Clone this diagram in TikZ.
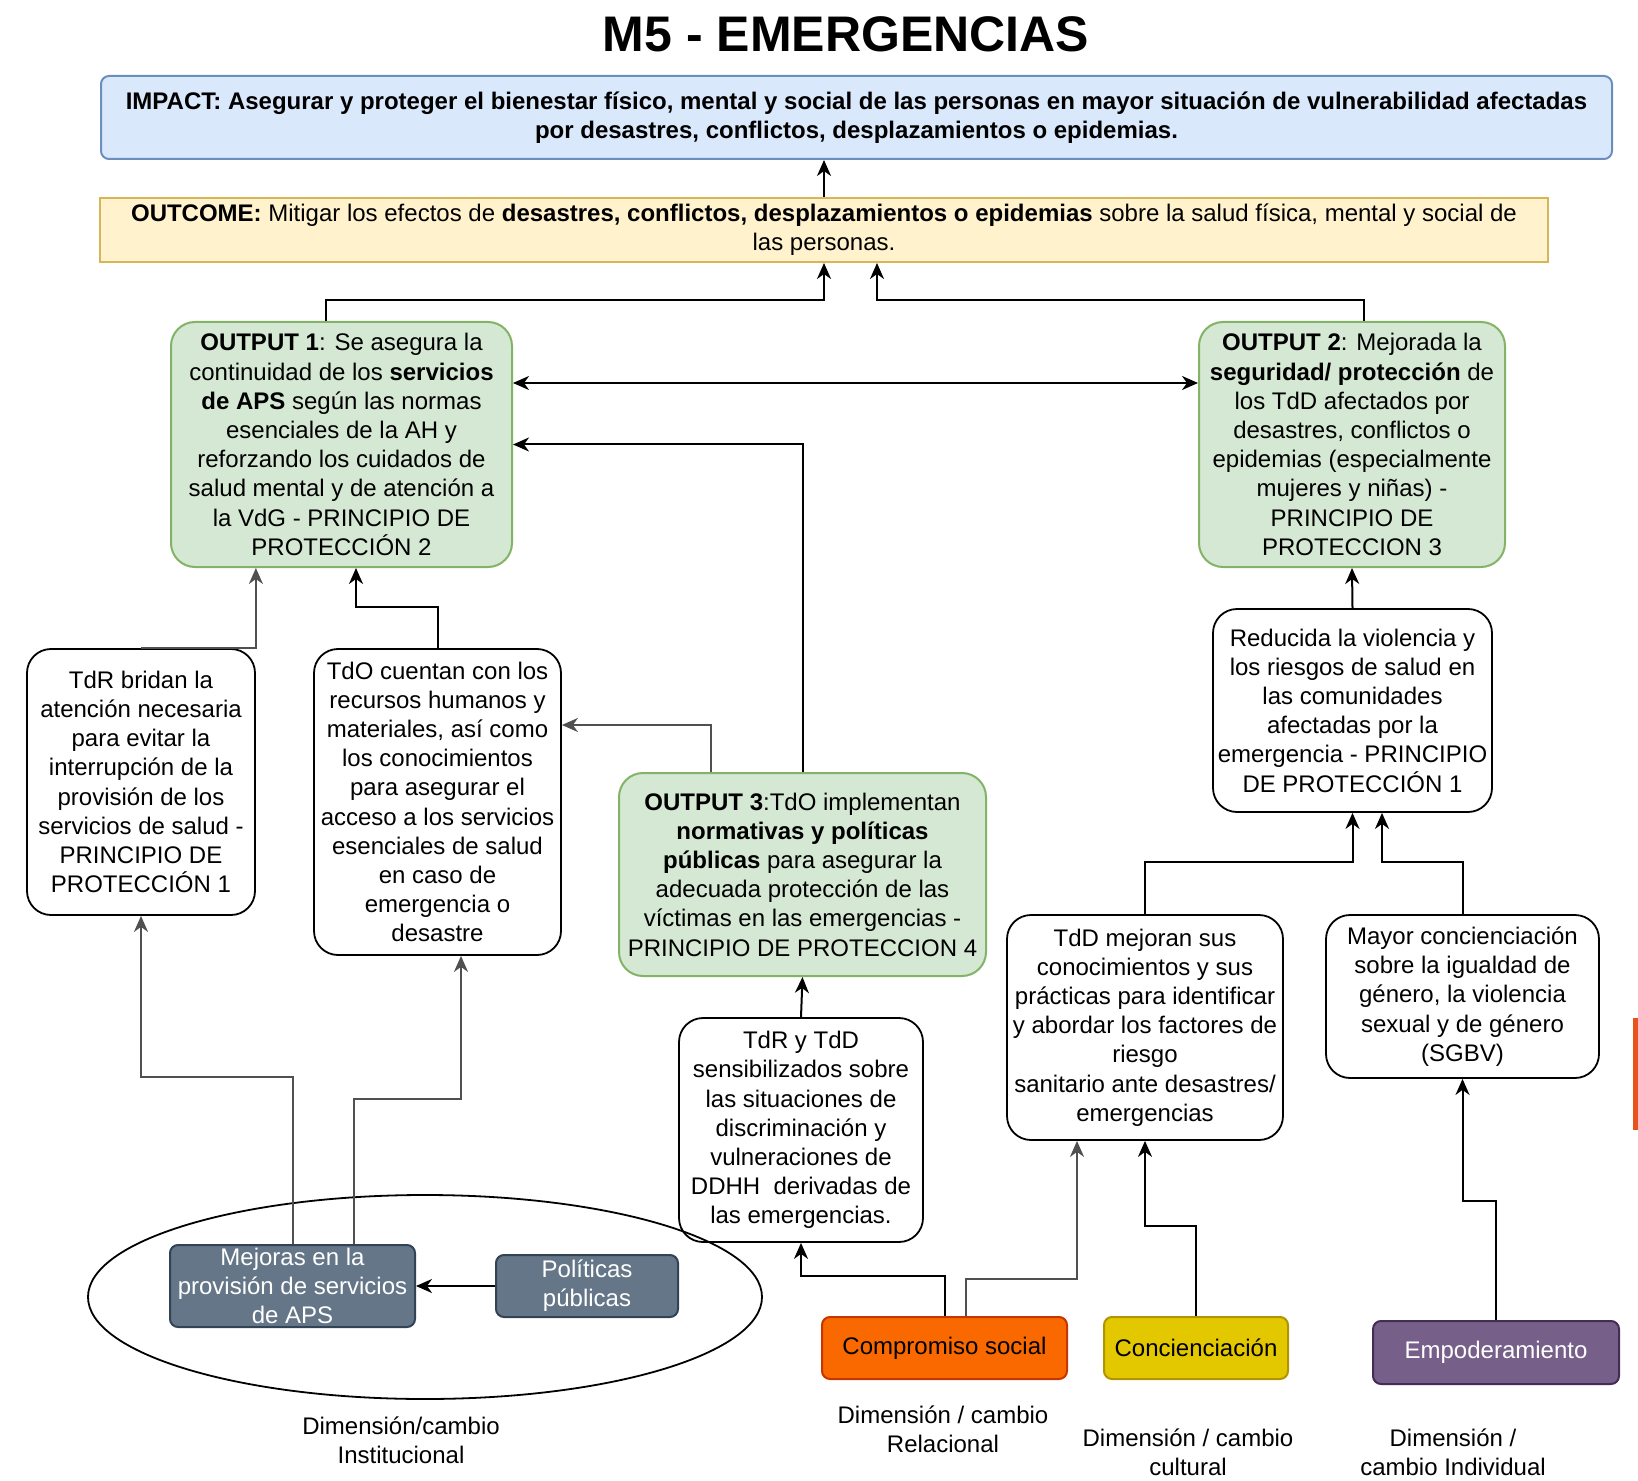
\documentclass[tikz,border=0pt]{standalone}
\usepackage{fontspec}
\setmainfont{Liberation Sans}
\usetikzlibrary{arrows.meta,shapes.geometric}

\definecolor{greenF}{HTML}{D5E8D4}
\definecolor{greenD}{HTML}{82B366}
\definecolor{blueF}{HTML}{DAE8FC}
\definecolor{blueD}{HTML}{6C8EBF}
\definecolor{yellowF}{HTML}{FFF2CC}
\definecolor{yellowD}{HTML}{D6B656}
\definecolor{slateF}{HTML}{647687}
\definecolor{slateD}{HTML}{314354}
\definecolor{orangeF}{HTML}{FA6800}
\definecolor{orangeD}{HTML}{C73500}
\definecolor{goldF}{HTML}{E3C800}
\definecolor{goldD}{HTML}{B09500}
\definecolor{purpleF}{HTML}{76608A}
\definecolor{purpleD}{HTML}{432D57}
\definecolor{lineG}{HTML}{505050}
\definecolor{barO}{HTML}{E8521B}

\tikzset{
    every node/.style={font=\fontsize{12}{14.6}\selectfont, align=center, inner sep=0pt},
    outbox/.style={draw=greenD, fill=greenF, rounded corners=12pt, line width=1pt},
    resbox/.style={draw=black, fill=white, rounded corners=12pt, line width=0.9pt},
    dimbox/.style={rounded corners=4pt, line width=1pt},
    tip/.tip={Stealth[length=8pt,width=7pt,inset=2.5pt]},
    link/.style={-tip, line width=1pt},
    glink/.style={link, draw=lineG},
    dlink/.style={tip-tip, line width=1pt},
}

\begin{document}
\begin{tikzpicture}[x=1pt, y=-1pt]
    \useasboundingbox (0,0) rectangle (819,740.5);
    \node[font=\fontsize{25}{30}\selectfont\bfseries] (title) at (423,17) {M5 - EMERGENCIAS};
    \node[draw=blueD, fill=blueF, rounded corners=4pt, line width=1pt, minimum width=755.5pt, minimum height=41.5pt]
        (impact) at (428.25,58.75) {\bfseries IMPACT: Asegurar y proteger el bienestar físico, mental y social de las personas en mayor situación de vulnerabilidad afectadas\\\bfseries por desastres, conflictos, desplazamientos o epidemias.};
    \node[draw=yellowD, fill=yellowF, line width=1pt, minimum width=724pt, minimum height=32pt]
        (outcome) at (412,115) {\textbf{OUTCOME:} Mitigar los efectos de \textbf{desastres, conflictos, desplazamientos o epidemias} sobre la salud física, mental y social de\\las personas.};
    \node[outbox, minimum width=170.5pt, minimum height=122.5pt] (out1) at (170.75,222.25)
        {\textbf{OUTPUT 1}: Se asegura la\\continuidad de los \textbf{servicios}\\\textbf{de APS} según las normas\\esenciales de la AH y\\reforzando los cuidados de\\salud mental y de atención a\\la VdG - PRINCIPIO DE\\PROTECCIÓN 2};
    \node[outbox, minimum width=153pt, minimum height=122.5pt] (out2) at (676,222.25)
        {\textbf{OUTPUT 2}: Mejorada la\\\textbf{seguridad/ protección} de\\los TdD afectados por\\desastres, conflictos o\\epidemias (especialmente\\mujeres y niñas) -\\PRINCIPIO DE\\PROTECCION 3};
    \node[outbox, minimum width=183.5pt, minimum height=101.5pt] (out3) at (401.25,437.25)
        {\textbf{OUTPUT 3}:TdO implementan\\\textbf{normativas y políticas}\\\textbf{públicas} para asegurar la\\adecuada protección de las\\víctimas en las emergencias -\\PRINCIPIO DE PROTECCION 4};
    \node[resbox, minimum width=114pt, minimum height=133pt] (tdr) at (70.5,391)
        {TdR bridan la\\atención necesaria\\para evitar la\\interrupción de la\\provisión de los\\servicios de salud -\\PRINCIPIO DE\\PROTECCIÓN 1};
    \node[resbox, minimum width=123.5pt, minimum height=153pt] (tdo) at (218.75,401)
        {TdO cuentan con los\\recursos humanos y\\materiales, así como\\los conocimientos\\para asegurar el\\acceso a los servicios\\esenciales de salud\\en caso de\\emergencia o\\desastre};
    \node[resbox, minimum width=139.5pt, minimum height=101.5pt] (red) at (676.25,355.25)
        {Reducida la violencia y\\los riesgos de salud en\\las comunidades\\afectadas por la\\emergencia - PRINCIPIO\\DE PROTECCIÓN 1};
    \node[resbox, minimum width=138pt, minimum height=112.5pt] (tdd) at (572.5,513.75)
        {TdD mejoran sus\\conocimientos y sus\\prácticas para identificar\\y abordar los factores de\\riesgo\\sanitario ante desastres/\\emergencias};
    \node[resbox, minimum width=136.5pt, minimum height=81.5pt] (mayor) at (731.25,498.25)
        {Mayor concienciación\\sobre la igualdad de\\género, la violencia\\sexual y de género\\(SGBV)};
    \node[resbox, minimum width=122pt, minimum height=112pt] (tdrd) at (400.5,565)
        {TdR y TdD\\sensibilizados sobre\\las situaciones de\\discriminación y\\vulneraciones de\\DDHH\ \ derivadas de\\las emergencias.};
    \node[draw, ellipse, line width=0.9pt, minimum width=337pt, minimum height=102pt] (inst) at (212.5,648.5) {};
    \node[dimbox, draw=slateD, fill=slateF, text=white, minimum width=122.5pt, minimum height=41pt] (mej) at (146.25,643)
        {Mejoras en la\\provisión de servicios\\de APS};
    \node[dimbox, draw=slateD, fill=slateF, text=white, minimum width=91pt, minimum height=31pt] (pol) at (293.5,643)
        {Políticas\\públicas};
    \node[dimbox, draw=orangeD, fill=orangeF, minimum width=122.5pt, minimum height=31pt] (comp) at (472.25,674) {Compromiso social};
    \node[dimbox, draw=goldD, fill=goldF, minimum width=92pt, minimum height=31pt] (conc) at (598,674) {Concienciación};
    \node[dimbox, draw=purpleD, fill=purpleF, text=white, minimum width=123pt, minimum height=31.5pt] (emp) at (748,676.25) {Empoderamiento};
    \node (dimI) at (200.5,720) {Dimensión/cambio\\Institucional};
    \node (dimR) at (471.5,714.5) {Dimensión / cambio\\Relacional};
    \node (dimC) at (594,726) {Dimensión / cambio\\cultural};
    \node (dimV) at (726.5,726) {Dimensión /\\cambio Individual};
    \fill[barO] (816.5,509) rectangle (819,565);
    \draw[link] (outcome.north) -- (outcome.north |- impact.south);
    \draw[link] ([xshift=-7.75pt]out1.north) -- ++(0,-10.5) -| (outcome.south);
    \draw[link] ([xshift=6pt]out2.north) -- ++(0,-10.5) -| ([xshift=26.5pt]outcome.south);
    \draw[dlink] ([yshift=30.75pt]out1.east) -- ([yshift=30.75pt]out2.west);
    \draw[link] (out3.north) |- (out1.east);
    \draw[glink] ([xshift=-45.75pt]out3.north) |- ([yshift=38.5pt]tdo.east);
    \draw[glink] (tdr.north) -| (tdr.north east |- out1.south);
    \draw[link] (tdo.north) -- ++(0,-20.5) -| ([xshift=7.25pt]out1.south);
    \draw[link] (red.north) -- (out2.south);
    \draw[link] (tdd.north) -- ++(0,-26) -| (red.south);
    \draw[link] (mayor.north) -- ++(0,-26) -| ([xshift=14.75pt]red.south);
    \draw[link] (tdrd.north) -- (out3.south);
    \draw[glink] (mej.north) -- ++(0,-83.5) -| (tdr.south);
    \draw[glink] ([xshift=30.75pt]mej.north) -- ++(0,-72.5) -| ([xshift=11.75pt]tdo.south);
    \draw[link] (pol.west) -- (mej.east);
    \draw[link] (comp.north) -- ++(0,-20) -| (tdrd.south);
    \draw[glink] ([xshift=10.75pt]comp.north) -- ++(0,-18.5) -| ([xshift=-34pt]tdd.south);
    \draw[link] (conc.north) -- ++(0,-45) -| (tdd.south);
    \draw[link] (emp.north) -- ++(0,-59.5) -| (mayor.south);
\end{tikzpicture}
\end{document}
